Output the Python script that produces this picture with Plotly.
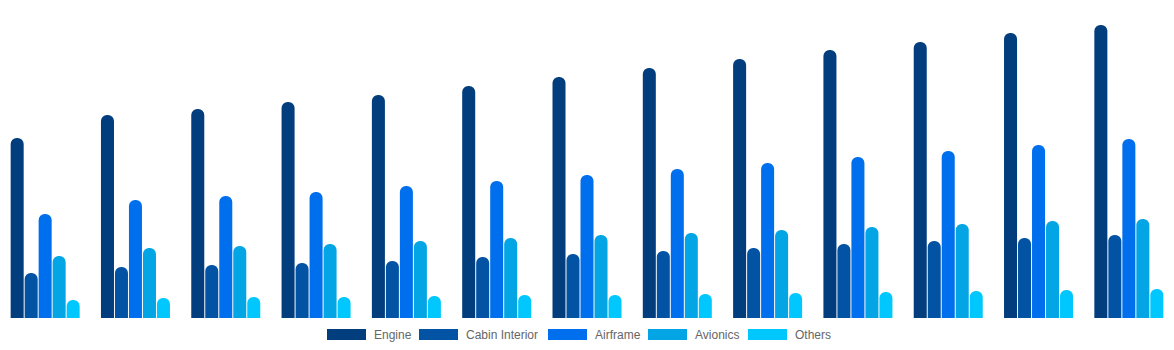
import plotly.graph_objects as go

years = [str(y) for y in range(2020, 2033)]

engine = [18.0, 20.3, 20.9, 21.6, 22.3, 23.2, 24.1, 25.0, 25.9, 26.8, 27.6, 28.5, 29.3]
cabin_interior = [4.5, 5.1, 5.3, 5.5, 5.7, 6.1, 6.4, 6.7, 7.0, 7.4, 7.7, 8.0, 8.3]
airframe = [10.4, 11.8, 12.2, 12.6, 13.2, 13.7, 14.3, 14.9, 15.5, 16.1, 16.7, 17.3, 17.9]
avionics = [6.2, 7.0, 7.2, 7.4, 7.7, 8.0, 8.3, 8.5, 8.8, 9.1, 9.4, 9.7, 9.9]
others = [1.8, 2.0, 2.1, 2.1, 2.2, 2.3, 2.3, 2.4, 2.5, 2.6, 2.7, 2.8, 2.9]

series_names = ["Engine", "Cabin Interior", "Airframe", "Avionics", "Others"]
series_values = [engine, cabin_interior, airframe, avionics, others]
colors = ["#023e7d", "#0353a4", "#006fee", "#04a5e4", "#00c8ff"]

fig = go.Figure()
for name, vals, col in zip(series_names, series_values, colors):
    fig.add_trace(go.Bar(
        x=years, y=vals, name=name,
        marker=dict(color=col, line=dict(width=0), cornerradius="50%"),
        showlegend=False,
    ))

# legend drawn as wide swatches with labels underneath the plot
legend_x = [327, 419, 548, 648, 748]
W = 1174
for name, col, lx in zip(series_names, colors, legend_x):
    fig.add_shape(type="rect", xref="paper", yref="paper",
                  x0=lx / W, x1=(lx + 39) / W, y0=-11 / 318, y1=-22 / 318,
                  fillcolor=col, line=dict(width=0))
    fig.add_annotation(xref="paper", yref="paper", x=(lx + 45) / W, y=-16.5 / 318,
                       text=name, showarrow=False, xanchor="left", yanchor="middle",
                       font=dict(family="Liberation Sans, Arial", size=12, color="#666666"))

fig.update_layout(
    width=1174, height=350,
    margin=dict(l=0, r=0, t=0, b=32),
    barmode="group", bargap=0.225, bargroupgap=0.07,
    plot_bgcolor="white", paper_bgcolor="white",
    xaxis=dict(showticklabels=False, showgrid=False, zeroline=False, showline=False,
               range=[-0.5, 12.5]),
    yaxis=dict(showticklabels=False, showgrid=False, zeroline=False, showline=False,
               range=[0, 31.8]),
)

fig.write_html("out.html")
